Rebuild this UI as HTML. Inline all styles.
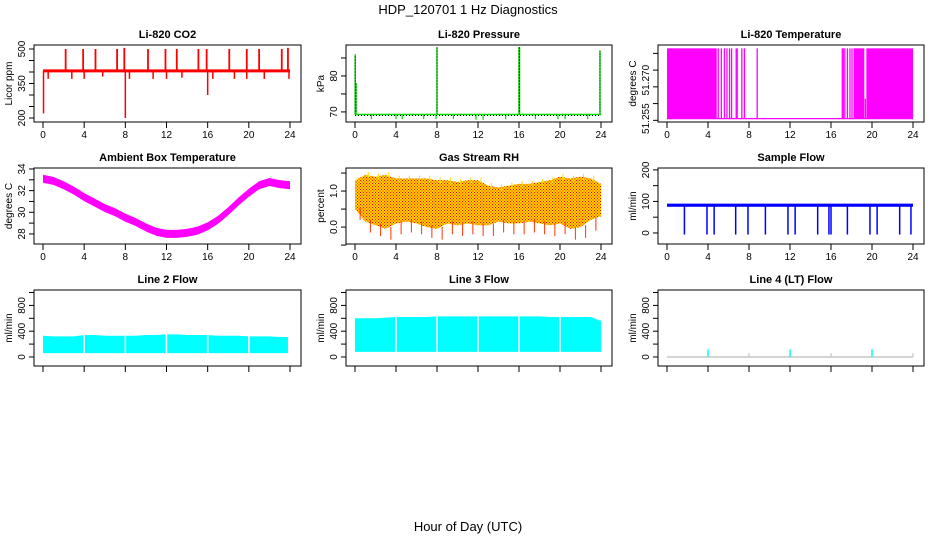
<!DOCTYPE html>
<html><head><meta charset="utf-8">
<style>
body{margin:0;background:#fff;}
svg{display:block;font-family:"Liberation Sans",sans-serif;}
</style></head>
<body>
<svg id="c" width="936" height="540" viewBox="0 0 936 540">
<defs>
<pattern id="rhpat" width="3" height="3" patternUnits="userSpaceOnUse">
<rect width="3" height="3" fill="#ffd200"/><rect width="1" height="1" fill="#f00"/><rect x="1.5" y="1.5" width="1" height="1" fill="#f00"/>
</pattern>
</defs>
<text x="468" y="14" text-anchor="middle" font-size="13">HDP_120701  1 Hz Diagnostics</text>
<text x="468" y="531" text-anchor="middle" font-size="13">Hour of Day (UTC)</text>
</svg>
<script>
// ---- data ----
const xTicks = [0,4,8,12,16,20,24];
const hours = [0,1,2,3,4,5,6,7,8,9,10,11,12,13,14,15,16,17,18,19,20,21,22,23,24];
const co2Base = 405;
const co2UpHours = [2.2,3.9,5.1,7.2,7.9,10.2,11.9,13.0,15.1,15.9,18.1,19.8,21.0,23.2,23.8];
const co2UpVals = [500,500,500,500,505,500,500,500,500,500,500,500,500,500,505];
const co2DownHours = [0.05,0.5,2.8,4.0,5.8,8.0,8.4,10.7,12.0,13.5,16.0,16.5,18.6,19.8,21.5,23.9];
const co2DownVals = [220,370,370,370,380,200,370,370,370,375,300,370,370,370,370,370];
const presBase = 69.3;
const presSpikeHours = [0.02,0.1,8.0,16.0,16.05,23.9];
const presSpikeVals = [86,78,88,88,88,87];
const presDipHours = [1.6,4.0,4.6,6.7,7.9,9.6,11.8,12.5,14.7,17.6,19.8,20.5,22.7];
const presDipVals = [68.0,68.0,68.0,68.0,68.0,68.0,67.8,67.8,68.0,68.0,68.0,68.0,68.0];
const ltBlocks = [[0,4.85],[18.2,19.25],[19.45,24]];
const ltLines = [5.0,5.3,5.6,5.85,6.1,6.3,6.75,6.85,7.3,7.55,8.8,17.1,17.2,17.35,17.6,17.85,18.05];
const ltTop = 51.2715, ltBottom = 51.2505;
const ambMid = [33.1,32.9,32.5,32.0,31.4,30.9,30.4,30.0,29.5,29.1,28.6,28.2,28.0,28.0,28.1,28.3,28.7,29.3,30.1,31.0,31.8,32.5,32.8,32.6,32.5];
const ambHalf = 0.37;
const rhUpper = [1.3,1.45,1.4,1.45,1.35,1.35,1.35,1.35,1.3,1.3,1.25,1.3,1.3,1.15,1.1,1.15,1.2,1.2,1.25,1.3,1.4,1.35,1.4,1.35,1.2];
const rhLower = [0.2,-0.15,-0.25,-0.35,-0.2,-0.15,-0.2,-0.3,-0.35,-0.2,-0.25,-0.2,-0.25,-0.25,-0.15,-0.2,-0.2,-0.15,-0.2,-0.25,-0.2,-0.35,-0.3,-0.1,0.0];
const sfBase = 88;
const sfDropHours = [1.7,3.9,4.6,6.7,7.9,9.6,11.8,12.5,14.7,15.8,16.0,17.6,19.8,20.5,22.7,23.8];
const l2Upper = [330,320,320,320,340,340,330,330,330,330,340,340,350,350,340,340,340,330,330,330,320,320,320,310,250];
const l2Lower = 60;
const l3Upper = [600,600,600,610,620,620,620,620,630,630,630,630,630,630,630,630,630,630,630,620,620,620,620,620,560];
const l3Lower = 80;
const flowGapHours = [4,8,12,16,20];
const l4SpikeHours = [4,12,20];
const l4SpikeVals = [120,120,120];

// ---- geometry ----
const NS='http://www.w3.org/2000/svg';
const svg=document.getElementById('c');
const cols=[[34,301],[346,612],[658,924]];
const rows=[[45,122],[168,244],[290,366]];
function el(tag,attrs,parent){const e=document.createElementNS(NS,tag);for(const k in attrs)e.setAttribute(k,attrs[k]);(parent||svg).appendChild(e);return e;}

function panel(ci,ri,name,title,ylab,dom,ticks,labels){
  const [L,R]=cols[ci],[T,B]=rows[ri];
  const g=el('g',{});
  
  
  const x=h=>L+9+h*(R-L-20)/24;
  const y=v=>B-(v-dom[0])*(B-T)/(dom[1]-dom[0]);
  const data=el('g',{},g);
  
  
  const bx=el('rect',{x:L,y:T,width:R-L,height:B-T,fill:'none',stroke:'#000','stroke-width':1},g);
  
  
  const t=el('text',{x:(L+R)/2,y:T-7,'text-anchor':'middle','font-size':11,'font-weight':'bold'},g);
  t.textContent=title;
  
  
  const xa=el('g',{},g);
  
  
  el('line',{x1:x(0),x2:x(24),y1:B,y2:B,stroke:'#000'},xa);
  xTicks.forEach(v=>{
    el('line',{x1:x(v),x2:x(v),y1:B,y2:B+6,stroke:'#000'},xa);
    if(ri<2){const tx=el('text',{x:x(v),y:B+16,'text-anchor':'middle','font-size':10},xa);tx.textContent=v;}
  });
  const ya=el('g',{},g);
  
  
  el('line',{x1:L,x2:L,y1:y(ticks[0]),y2:y(ticks[ticks.length-1]),stroke:'#000'},ya);
  ticks.forEach(v=>el('line',{x1:L-5,x2:L,y1:y(v),y2:y(v),stroke:'#000'},ya));
  labels.forEach(v=>{const yy=y(v[0]);const tx=el('text',{x:L-9,y:yy,'text-anchor':'middle','font-size':10,transform:`rotate(-90 ${L-9} ${yy})`},ya);tx.textContent=v[1];});
  const yl=el('text',{x:L-22,y:(T+B)/2,'text-anchor':'middle','font-size':10,transform:`rotate(-90 ${L-22} ${(T+B)/2})`},g);
  yl.textContent=ylab;
  
  
  return {x,y,g:data};
}
function vline(p,h,v1,v2,col,w){const l=el('line',{x1:p.x(h),x2:p.x(h),y1:p.y(v1),y2:p.y(v2),stroke:col,'stroke-width':w||1.5},p.g);
  
  return l;}
function band(p,hs,up,lo,fill,nm){
  let d='M'+hs.map((h,i)=>p.x(h)+','+p.y(up[i])).join('L');
  d+='L'+hs.slice().reverse().map((h,i)=>p.x(h)+','+p.y(Array.isArray(lo)?lo[hs.length-1-i]:lo)).join('L')+'Z';
  const e=el('path',{d,fill},p.g);
  
  
}

let p=panel(0,0,'co2','Li-820 CO2','Licor ppm',[182.6,517.4],[200,250,300,350,400,450,500],[[200,'200'],[350,'350'],[500,'500']]);
co2UpHours.forEach((h,i)=>vline(p,h,co2Base,co2UpVals[i],'#f00',1.8));
co2DownHours.forEach((h,i)=>vline(p,h,co2Base,co2DownVals[i],'#f00',1.5));
let bl=el('line',{x1:p.x(0),x2:p.x(24),y1:p.y(co2Base),y2:p.y(co2Base),stroke:'#f00','stroke-width':3},p.g);



p=panel(1,0,'pressure','Li-820 Pressure','kPa',[67.2,88.6],[70,75,80,85],[[70,'70'],[80,'80']]);
presDipHours.forEach((h,i)=>vline(p,h,presBase,presDipVals[i],'#0d0',1.2));
presSpikeHours.forEach((h,i)=>{vline(p,h,presBase,presSpikeVals[i],'#0d0',1.5);const l=vline(p,h,presBase,presSpikeVals[i],'#000',1);l.setAttribute('stroke-dasharray','1 2');});
bl=el('line',{x1:p.x(0),x2:p.x(24),y1:p.y(presBase),y2:p.y(presBase),stroke:'#0d0','stroke-width':1.5},p.g);


bl=el('line',{x1:p.x(0),x2:p.x(24),y1:p.y(presBase)+1,y2:p.y(presBase)+1,stroke:'#000','stroke-width':1,'stroke-dasharray':'1 2'},p.g);



p=panel(2,0,'li820-temp','Li-820 Temperature','degrees C',[51.2495,51.2725],[51.250,51.255,51.260,51.265,51.270],[[51.2505,'51.255'],[51.262,'51.270']]);
ltBlocks.forEach(b=>{const r=el('rect',{x:p.x(b[0]),y:p.y(ltTop),width:p.x(b[1])-p.x(b[0]),height:p.y(ltBottom)-p.y(ltTop),fill:'#f0f'},p.g);
  
  });
ltLines.forEach(h=>vline(p,h,ltBottom,ltTop,'#f0f',1.3));
vline(p,19.35,ltBottom,51.2565,'#f0f',1.3);
bl=el('line',{x1:p.x(0),x2:p.x(24),y1:p.y(ltBottom),y2:p.y(ltBottom),stroke:'#f0f','stroke-width':1.2},p.g);



p=panel(0,1,'ambient-temp','Ambient Box Temperature','degrees C',[27.07,34.09],[28,29,30,31,32,33,34],[[28,'28'],[30,'30'],[32,'32'],[34,'34']]);
band(p,hours,ambMid.map(v=>v+ambHalf),ambMid.map(v=>v-ambHalf),'#f0f','ambient-band');

p=panel(1,1,'rh','Gas Stream RH','percent',[-0.47,1.64],[-0.5,0,0.5,1.0,1.5],[[0,'0.0'],[1.0,'1.0']]);
band(p,hours,rhUpper,rhLower.map(v=>v+0.3),'url(#rhpat)','rh-band');
hours.forEach((h,i)=>{if(i<24){vline(p,h+0.5,rhLower[i],rhLower[i]+0.35,'#f30',1);vline(p,h+0.3,rhUpper[i]-0.1,rhUpper[i]+0.08,'#fd0',1);}});

p=panel(2,1,'sample-flow','Sample Flow','ml/min',[-35,206],[0,50,100,150,200],[[0,'0'],[100,'100'],[200,'200']]);
sfDropHours.forEach(h=>vline(p,h,sfBase,-5,'#00f',1.5));
bl=el('rect',{x:p.x(0),y:p.y(sfBase+5),width:p.x(24)-p.x(0),height:p.y(sfBase-5)-p.y(sfBase+5),fill:'#00f'},p.g);



p=panel(0,2,'line2-flow','Line 2 Flow','ml/min',[-140,1039],[0,200,400,600,800,1000],[[0,'0'],[400,'400'],[800,'800']]);
band(p,hours.slice(0,24).concat([23.8]),l2Upper.slice(0,24).concat([l2Upper[23]]),l2Lower,'#0ff','line2-band');
flowGapHours.forEach(h=>vline(p,h,l2Lower-10,l2Upper[h]+10,'#fff',1.5));

p=panel(1,2,'line3-flow','Line 3 Flow','ml/min',[-140,1039],[0,200,400,600,800,1000],[[0,'0'],[400,'400'],[800,'800']]);
band(p,hours,l3Upper,l3Lower,'#0ff','line3-band');
flowGapHours.forEach(h=>vline(p,h,l3Lower-10,l3Upper[h]+10,'#fff',1.5));

p=panel(2,2,'line4-flow','Line 4 (LT) Flow','ml/min',[-140,1039],[0,200,400,600,800,1000],[[0,'0'],[400,'400'],[800,'800']]);
bl=el('line',{x1:p.x(0),x2:p.x(24),y1:p.y(0),y2:p.y(0),stroke:'#aaa','stroke-width':1},p.g);


l4SpikeHours.forEach((h,i)=>vline(p,h,0,l4SpikeVals[i],'#0ff',1.5));
[8,16,24].forEach(h=>vline(p,h,0,60,'#bbb',1));
</script>
</body></html>
